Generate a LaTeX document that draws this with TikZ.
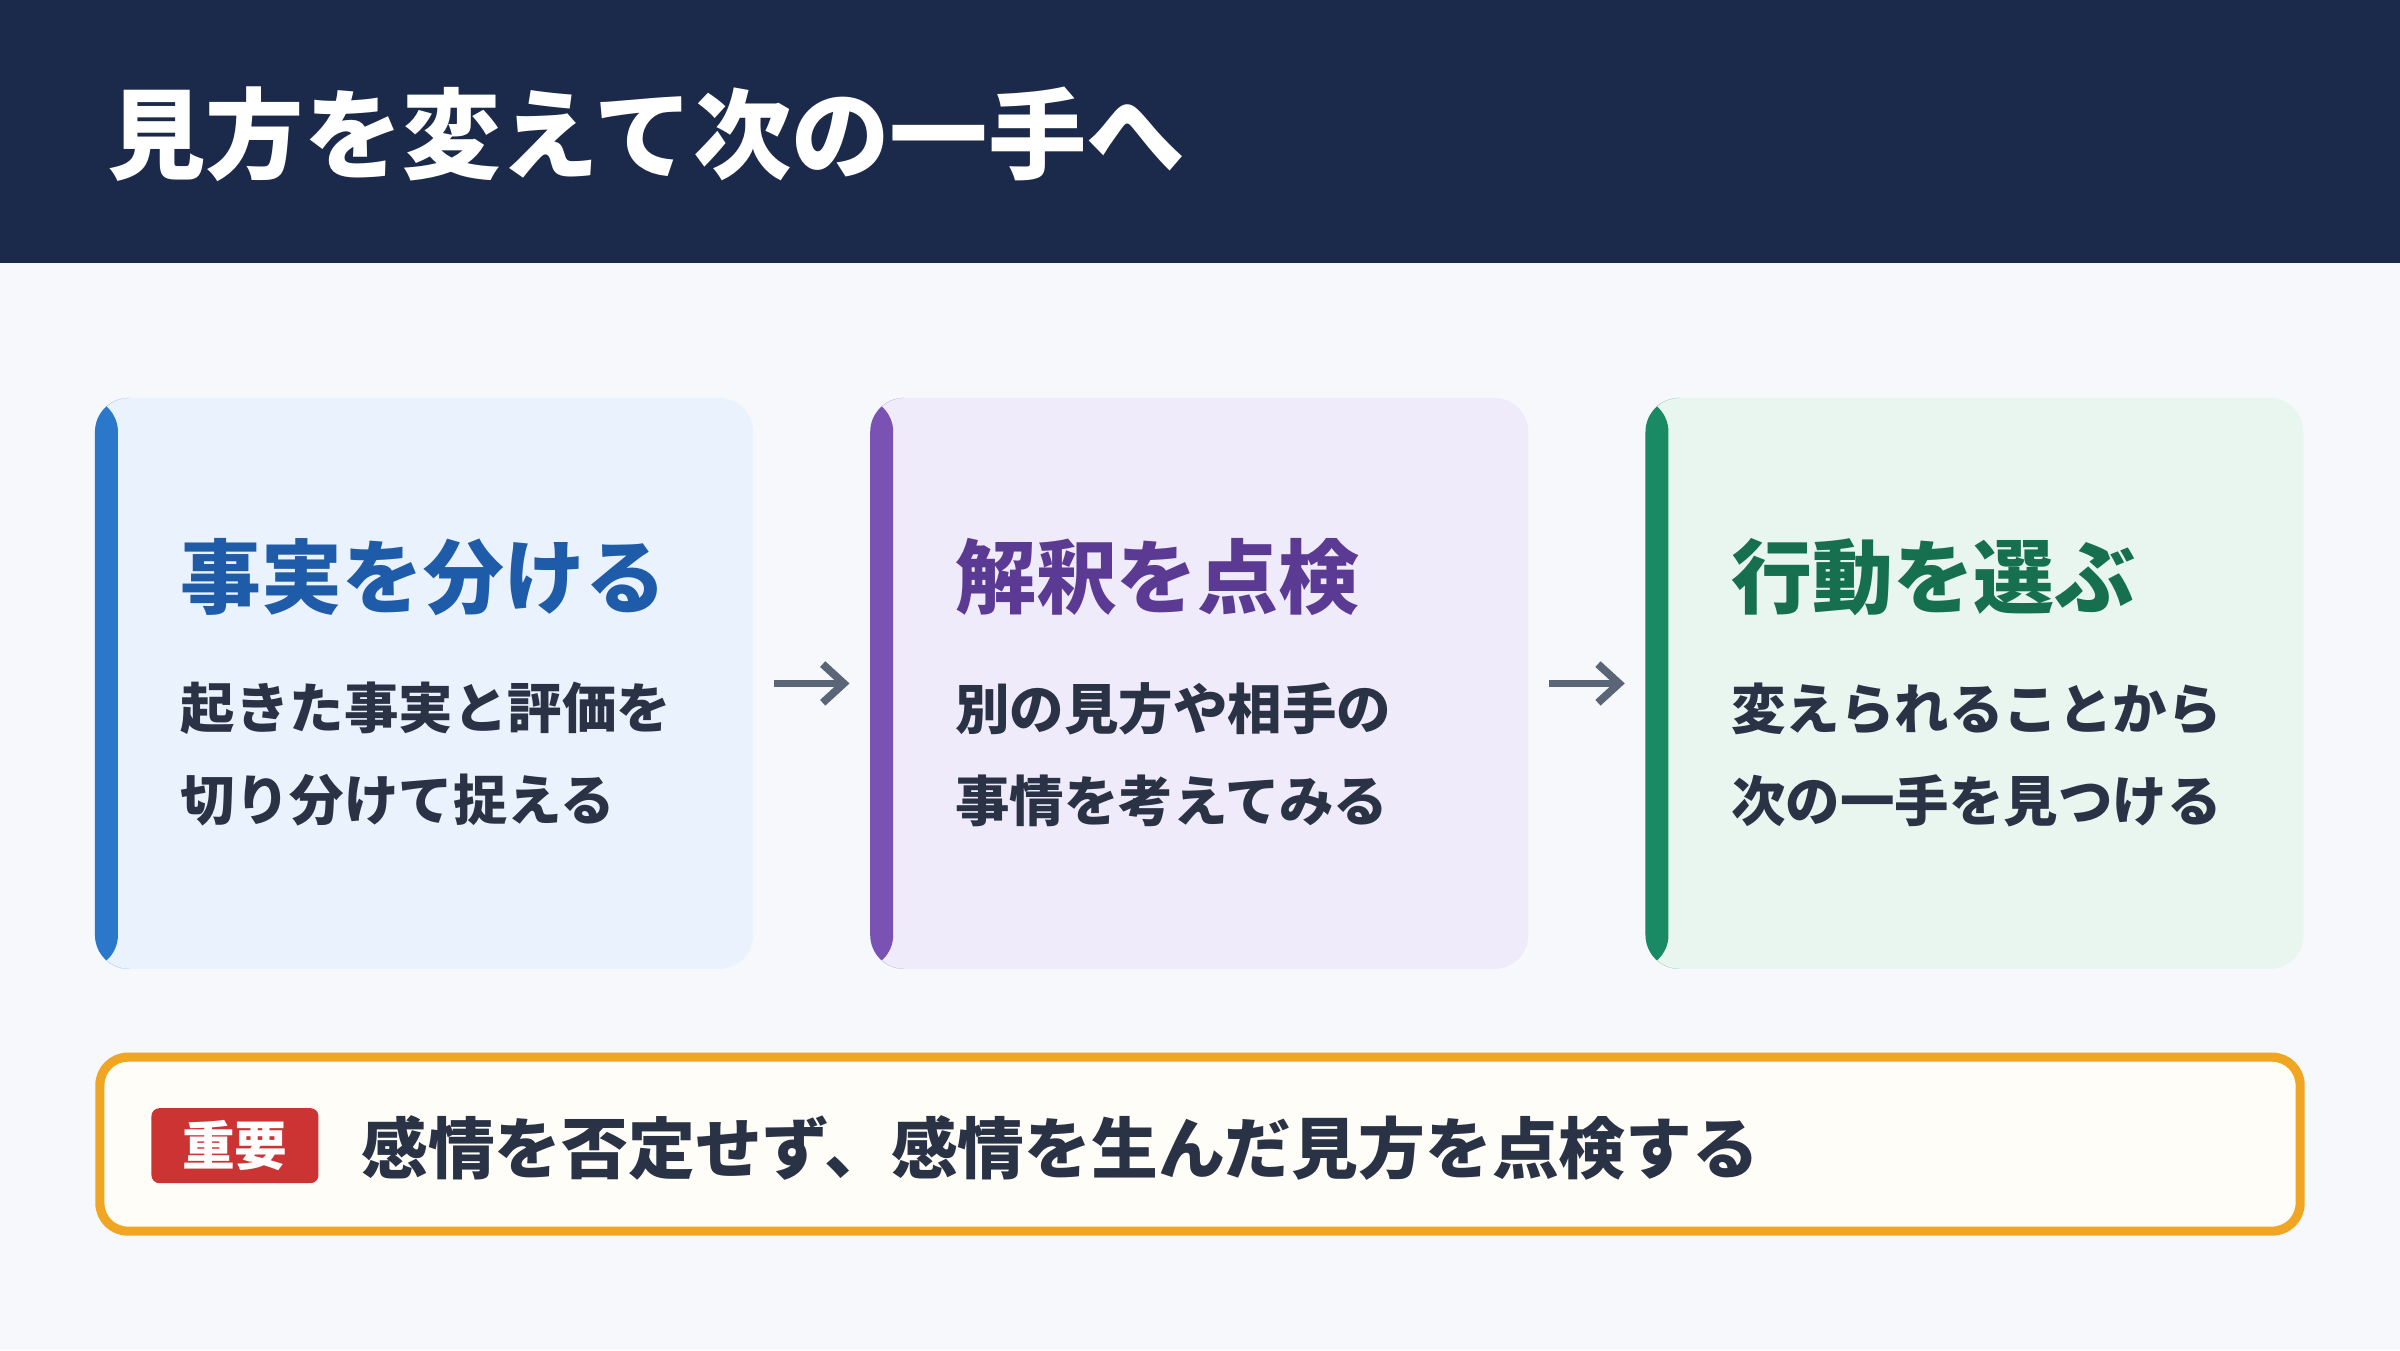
\documentclass[tikz,border=0pt]{standalone}
\usepackage{fontspec}
\setmainfont{Noto Sans CJK JP}
\usepackage{tikz}
\usetikzlibrary{arrows.meta,positioning}
\definecolor{navy}{HTML}{1B2A4A}
\definecolor{pagebg}{HTML}{F6F8FC}
\definecolor{ink}{HTML}{2A3345}
\definecolor{blueA}{HTML}{2B77C9}
\definecolor{blueF}{HTML}{EAF2FE}
\definecolor{blueT}{HTML}{1E5BA8}
\definecolor{purpA}{HTML}{7A52B3}
\definecolor{purpF}{HTML}{F0EBFA}
\definecolor{purpT}{HTML}{5B3A93}
\definecolor{greenA}{HTML}{1A8A64}
\definecolor{greenF}{HTML}{E8F6EF}
\definecolor{greenT}{HTML}{167050}
\definecolor{noteB}{HTML}{F0A623}
\definecolor{noteF}{HTML}{FFFDF7}
\definecolor{badge}{HTML}{CC3333}
\definecolor{arrowc}{HTML}{5A6578}
\tikzset{
  card/.style 2 args={draw=none, fill=#2, rounded corners=0.34cm,
    minimum width=6.58cm, minimum height=5.71cm,
    path picture={\fill[#1] (path picture bounding box.north west)
      rectangle ([xshift=0.23cm]path picture bounding box.south west);}},
  head/.style={anchor=west, font=\fontsize{23}{28}\selectfont\bfseries, text=#1},
  body/.style={anchor=west, font=\fontsize{15.5}{20}\selectfont\bfseries, text=ink},
  flow/.style={draw=arrowc, line width=2.2pt, -{Straight Barb[length=6pt,width=11pt]},
    shorten >=0.2cm, shorten <=0.2cm}
}
\begin{document}
\begin{tikzpicture}[x=0.01531cm, y=-0.01531cm]
\useasboundingbox (0,0) rectangle (1568,882);
\fill[pagebg] (0,0) rectangle (1568,882);
\fill[navy] (0,0) rectangle (1568,172);
\node[anchor=west, text=white, font=\fontsize{28}{34}\selectfont\bfseries] (title) at (62,88) {見方を変えて次の一手へ};

% cards
\node[card={blueA}{blueF}] (fact) at (277,446.5) {};
\node[card={purpA}{purpF}] (view) at (783.5,446.5) {};
\node[card={greenA}{greenF}] (act) at (1290,446.5) {};

\node[head=blueT] (factH) at (110,377) {事実を分ける};
\node[body] (factA) at (110,463) {起きた事実と評価を};
\node[body] (factB) at (110,523) {切り分けて捉える};

\node[head=purpT] (viewH) at (616,377) {解釈を点検};
\node[body] (viewA) at (616,463) {別の見方や相手の};
\node[body] (viewB) at (616,523) {事情を考えてみる};

\node[head=greenT] (actH) at (1123,377) {行動を選ぶ};
\node[body] (actA) at (1123,463) {変えられることから};
\node[body] (actB) at (1123,523) {次の一手を見つける};

\draw[flow] (fact.east) -- (view.west);
\draw[flow] (view.east) -- (act.west);

% note
\node[draw=noteB, line width=2.6pt, fill=noteF, rounded corners=0.28cm,
  minimum width=22.0cm, minimum height=1.74cm] (note) at (784,747.5) {};
\node[fill=badge, rounded corners=0.08cm, text=white, minimum width=1.67cm,
  minimum height=0.75cm, font=\fontsize{15}{18}\selectfont\bfseries] (tag) at (153.5,748.5) {重要};
\node[anchor=west, text=ink, font=\fontsize{19}{23}\selectfont\bfseries] (noteT) at (228,750) {感情を否定せず、感情を生んだ見方を点検する};
\end{tikzpicture}
\end{document}
